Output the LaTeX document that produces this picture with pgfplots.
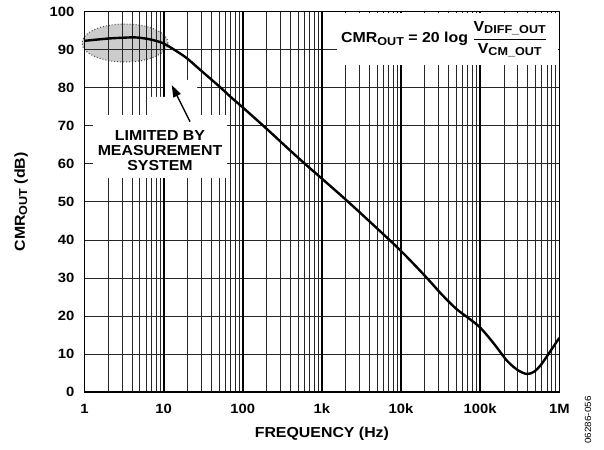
\documentclass[border=0pt]{standalone}
\usepackage{pgfplots}
\pgfplotsset{compat=1.18}
\usepackage{fontspec}
\setmainfont{Liberation Sans}[FakeStretch=1.1]
\usetikzlibrary{arrows.meta}
\newcommand\lbl{\fontsize{14.5}{16}\selectfont\bfseries}
\newcommand\tck{\fontsize{13.5}{15}\selectfont\bfseries}
\newcommand\sub[1]{\raisebox{-0.3ex}{\fontsize{11.5}{12}\selectfont\bfseries #1}}

\begin{document}
\begin{tikzpicture}[x=1bp,y=1bp]
\path[use as bounding box] (0,0) rectangle (604,450);
% shaded region, under the grid
\fill[black!20] (125,407) ellipse [x radius=43, y radius=19];
\draw[black!70, line width=1bp, dotted] (125,407) ellipse [x radius=43, y radius=19];
\begin{axis}[
  at={(84.5bp,57.7bp)}, anchor=south west,
  scale only axis, width=474.8bp, height=380.8bp,
  xmode=log, xmin=1, xmax=1e6, ymin=0, ymax=100,
  xtick={1,10,100,1000,10000,100000,1000000},
  xticklabels={1,10,100,1k,10k,100k,1M},
  ytick={0,10,...,100},
  grid=both,
  major grid style={black!85, line width=0.9bp},
  minor grid style={black!85, line width=0.9bp},
  extra x ticks={10,100,1000,10000,100000},
  extra x tick labels={},
  extra x tick style={major grid style={black, line width=1.8bp}},
  tick style={draw=none},
  axis line style={line width=1.6bp},
  ticklabel style={font=\tck},
  /pgf/number format/assume math mode=true,
  xticklabel style={anchor=base, yshift=-21bp},
  yticklabel style={anchor=east, inner sep=0pt, xshift=-10bp},
  xlabel={FREQUENCY (Hz)},
  ylabel={CMR\sub{OUT} (dB)},
  label style={font=\lbl},
  xlabel style={at={(axis description cs:0.5,-0.1182)}, anchor=base},
  ylabel style={at={(axis description cs:-0.1337,0.5)}, anchor=center},
]
\addplot[black, line width=2.4bp, smooth] table {
f v
1 92.3
2 92.9
3 93.1
4 93.2
5 93.1
7 92.6
10 91.6
15 89.4
20 87.6
30 84.4
50 80.4
70 77.6
100 74.8
200 69.2
500 61.6
1000 56.1
2000 50.6
5000 43.0
10000 37.1
20000 30.6
33000 25.6
50000 21.9
70000 19.6
100000 17.0
150000 12.7
218000 8.3
300000 5.8
390000 4.8
480000 5.4
575000 7.0
700000 9.5
1000000 14.3
};
\end{axis}
% annotation box and arrow
\fill[white] (93,272) rectangle (227,335);
\fill[white] (150,335) -- (150,353) -- (165,353) -- (165,370) -- (197,370) -- (197,335) -- cycle;
\node[font=\lbl, anchor=base] at (160,309) {LIMITED BY};
\node[font=\lbl, anchor=base] at (160,294) {MEASUREMENT};
\node[font=\lbl, anchor=base] at (160,279) {SYSTEM};
\draw[line width=1.4bp, -{Triangle[length=12bp,width=8bp]}] (190,328.3) -- (171.7,365);
% formula box
\fill[white] (337,385) rectangle (558,437);
\node[font=\lbl, anchor=base west, inner sep=0pt] at (341,407)
  {CMR\sub{OUT} = 20 log $\displaystyle{\mbox{V\sub{DIFF\_OUT}} \above 1.2pt \mbox{V\sub{CM\_OUT}}}$};
\node[rotate=90, font=\fontsize{9}{10}\selectfont] at (588,30) {06286-056};
\end{tikzpicture}
\end{document}
